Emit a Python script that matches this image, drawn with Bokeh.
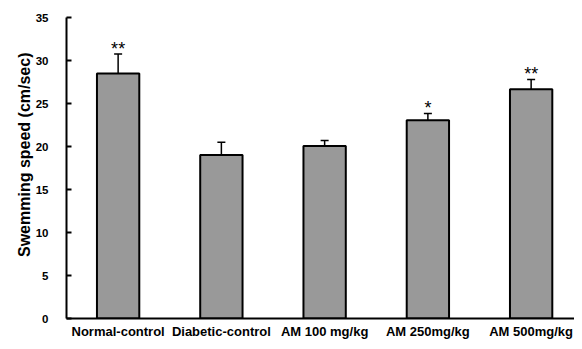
from bokeh.plotting import figure
from bokeh.models import ColumnDataSource, Range1d, FixedTicker, Whisker, TeeHead
from bokeh.core.properties import value
from bokeh.embed import file_html
from bokeh.resources import INLINE

categories = ["Normal-control", "Diabetic-control", "AM 100 mg/kg", "AM 250mg/kg", "AM 500mg/kg"]
means = [28.5, 19.0, 20.05, 23.05, 26.65]
errors = [2.25, 1.5, 0.65, 0.8, 1.15]
stars = ["**", "", "", "*", "**"]
y_ticks = [0, 5, 10, 15, 20, 25, 30, 35]
y_title = "Swemming speed (cm/sec)"

xs = [i + 0.5 for i in range(len(categories))]
tops = [m + e for m, e in zip(means, errors)]
src = ColumnDataSource(dict(x=xs, mean=means, top=tops, star=stars))

FONT = "Liberation Sans"
W, H = 574, 341

p = figure(width=W, height=H, output_backend="svg", toolbar_location=None,
           x_range=Range1d(0, 4.92), y_range=Range1d(0, 35),
           title=y_title, title_location="left",
           min_border_left=66, min_border_right=0, min_border_top=17, min_border_bottom=21)
p.outline_line_color = None
p.xgrid.visible = False
p.ygrid.visible = False
p.background_fill_color = "white"

p.title.align = "right"
p.title.offset = 35
p.title.standoff = 0
p.title.text_font = FONT
p.title.text_font_style = "bold"
p.title.text_font_size = "16px"
p.title.text_color = "black"

p.vbar(x="x", top="mean", bottom=0, width=0.41, source=src,
       fill_color="#999999", line_color="black", line_width=2)

w = Whisker(base="x", upper="top", lower="mean", source=src,
            line_color="black", line_width=1.5,
            upper_head=TeeHead(size=8, line_color="black", line_width=1.5),
            lower_head=None)
p.add_layout(w)

p.text(x="x", y="top", text="star", source=src, text_align="center",
       text_baseline="alphabetic", y_offset=-5,
       text_font=value(FONT), text_font_size="18px", text_font_style="normal",
       text_color="black")

# y axis
p.yaxis.ticker = FixedTicker(ticks=y_ticks)
p.yaxis.major_label_text_font = FONT
p.yaxis.major_label_text_font_style = "bold"
p.yaxis.major_label_text_font_size = "11.5px"
p.yaxis.major_label_text_color = "black"
p.yaxis.major_label_standoff = 18
p.yaxis.major_tick_in = 5
p.yaxis.major_tick_out = 0
p.yaxis.minor_tick_line_color = None
p.yaxis.axis_line_width = 2
p.yaxis.major_tick_line_width = 2

# x axis
p.xaxis.ticker = FixedTicker(ticks=xs)
p.xaxis.major_label_overrides = {x: c for x, c in zip(xs, categories)}
p.xaxis.major_label_text_font = FONT
p.xaxis.major_label_text_font_style = "bold"
p.xaxis.major_label_text_font_size = "13px"
p.xaxis.major_label_text_color = "black"
p.xaxis.major_label_standoff = 5
p.xaxis.major_tick_in = 0
p.xaxis.major_tick_out = 0
p.xaxis.major_tick_line_color = None
p.xaxis.minor_tick_line_color = None
p.xaxis.axis_line_width = 2

open("out.html", "w").write(file_html(p, INLINE))
